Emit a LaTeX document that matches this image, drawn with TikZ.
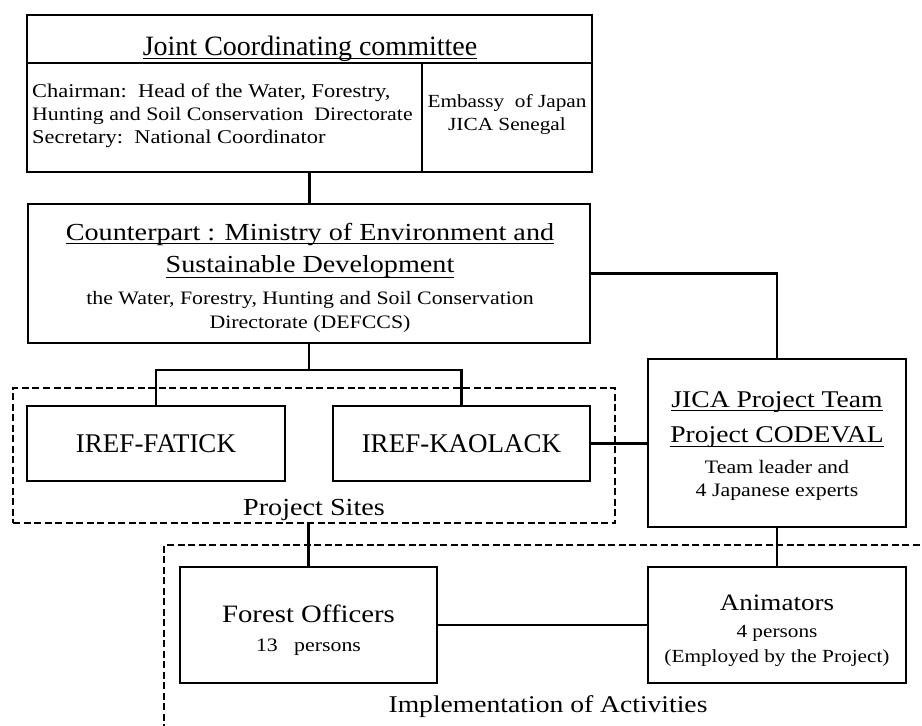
\documentclass[tikz,border=0pt]{standalone}
\usepackage{fontspec}
\setmainfont{Liberation Serif}
\newfontfamily\wf[FakeStretch=1.15]{Liberation Serif}
\newcommand\fs[1]{\fontsize{#1}{#1}\selectfont}
\newcommand\myul[2][4pt]{\setbox0=\hbox{#2}\leavevmode\rlap{\raisebox{-#1}{\rule{\wd0}{1.5pt}}}\box0}
\begin{document}
\begin{tikzpicture}[x=1pt,y=-1pt,
  boxnode/.style={draw,line width=2.4pt,inner sep=0pt,align=center},
  conn/.style={line width=2.8pt},
  dashbox/.style={line width=1.6pt,dash pattern=on 7pt off 3.5pt},
  txt/.style={inner sep=0pt,anchor=base}]
\useasboundingbox (0,0) rectangle (922,726);
% Joint Coordinating committee
\node[boxnode,minimum width=565pt,minimum height=157pt] (jcc) at (309.5,93.5) {};
\coordinate (d1) at (27,63); \coordinate (d2) at (592,63);
\coordinate (s1) at (422,63); \coordinate (s2) at (422,172);
\draw[line width=2.4pt] (d1) -- (d2);
\draw[line width=2.4pt] (s1) -- (s2);
\node[txt] (title) at (310,55) {\fs{28}\myul{Joint Coordinating committee}};
\node[txt,anchor=base west] (ch1) at (32,97) {\wf\fs{19.5}Chairman:\ \ Head of the Water, Forestry,};
\node[txt,anchor=base west] (ch2) at (32,120) {\wf\fs{19}Hunting and Soil Conservation\ \ Directorate};
\node[txt,anchor=base west] (ch3) at (32,143) {\wf\fs{19.5}Secretary:\ \ National Coordinator};
\node[txt] (emb1) at (507,107) {\wf\fs{18.5}Embassy\ \ of Japan};
\node[txt] (emb2) at (507,130) {\wf\fs{18.5}JICA Senegal};
% Counterpart
\node[boxnode,minimum width=562pt,minimum height=139pt] (cp) at (309,273.5) {};
\node[txt] (cp1) at (310,240) {\wf\fs{24.5}\myul{Counterpart : Ministry of Environment and}};
\node[txt] (cp2) at (310,272) {\wf\fs{24.5}\myul[6pt]{Sustainable Development}};
\node[txt] (cp3) at (310,304) {\wf\fs{19}the Water, Forestry, Hunting and Soil Conservation};
\node[txt] (cp4) at (310,328) {\wf\fs{19}Directorate (DEFCCS)};
% Project sites
\node[dashbox,draw,minimum width=602pt,minimum height=135pt,inner sep=0pt] (sites) at (314,455.5) {};
\node[txt] (sitesT) at (314,515) {\wf\fs{24.5}Project Sites};
\node[boxnode,minimum width=258pt,minimum height=75pt] (fat) at (156,443.5) {\fs{27}IREF-FATICK};
\node[boxnode,minimum width=257pt,minimum height=75pt] (kao) at (461.5,443.5) {\fs{27}IREF-KAOLACK};
% JICA team
\node[boxnode,minimum width=258pt,minimum height=168pt] (jica) at (777,443) {};
\node[txt] (j1) at (777,407) {\wf\fs{24}\myul{JICA Project Team}};
\node[txt] (j2) at (777,442) {\wf\fs{24}\myul[5pt]{Project CODEVAL}};
\node[txt] (j3) at (777,473) {\wf\fs{19}Team leader and};
\node[txt] (j4) at (777,496) {\wf\fs{19}4 Japanese\ experts};
% Implementation
\coordinate (i1) at (930,545); \coordinate (i2) at (164,545); \coordinate (i3) at (164,735);
\draw[dashbox] (i1) -- (i2) -- (i3);
\node[txt] (implT) at (548,712) {\wf\fs{24}Implementation of Activities};
\node[boxnode,minimum width=257pt,minimum height=116pt] (fo) at (308.5,625) {};
\node[txt] (fo1) at (308.5,622) {\wf\fs{25}Forest Officers};
\node[txt] (fo2) at (308.5,651) {\wf\fs{19}13\ \ \ persons};
\node[boxnode,minimum width=258pt,minimum height=116pt] (an) at (777,625) {};
\node[txt] (an1) at (777,610) {\wf\fs{23.5}Animators};
\node[txt] (an2) at (777,637) {\wf\fs{18.5}4 persons};
\node[txt] (an3) at (777,662) {\wf\fs{18.5}(Employed\ by the Project)};
% connectors
\coordinate (bus) at (310,370);
\draw[conn] (jcc.south) -- (jcc.south |- cp.north);
\draw[conn] (cp.south) -- (cp.south |- bus);
\draw[conn] (fat.north) |- (bus) -| (kao.north);
\draw[conn] (cp.east) -| (jica.north);
\draw[conn] (kao.east) -- (jica.west |- kao.east);
\draw[conn] (jica.south) -- (an.north);
\draw[conn] (fo.east) -- (an.west);
\draw[conn] (fo.north |- sites.south) -- (fo.north);
\end{tikzpicture}
\end{document}
